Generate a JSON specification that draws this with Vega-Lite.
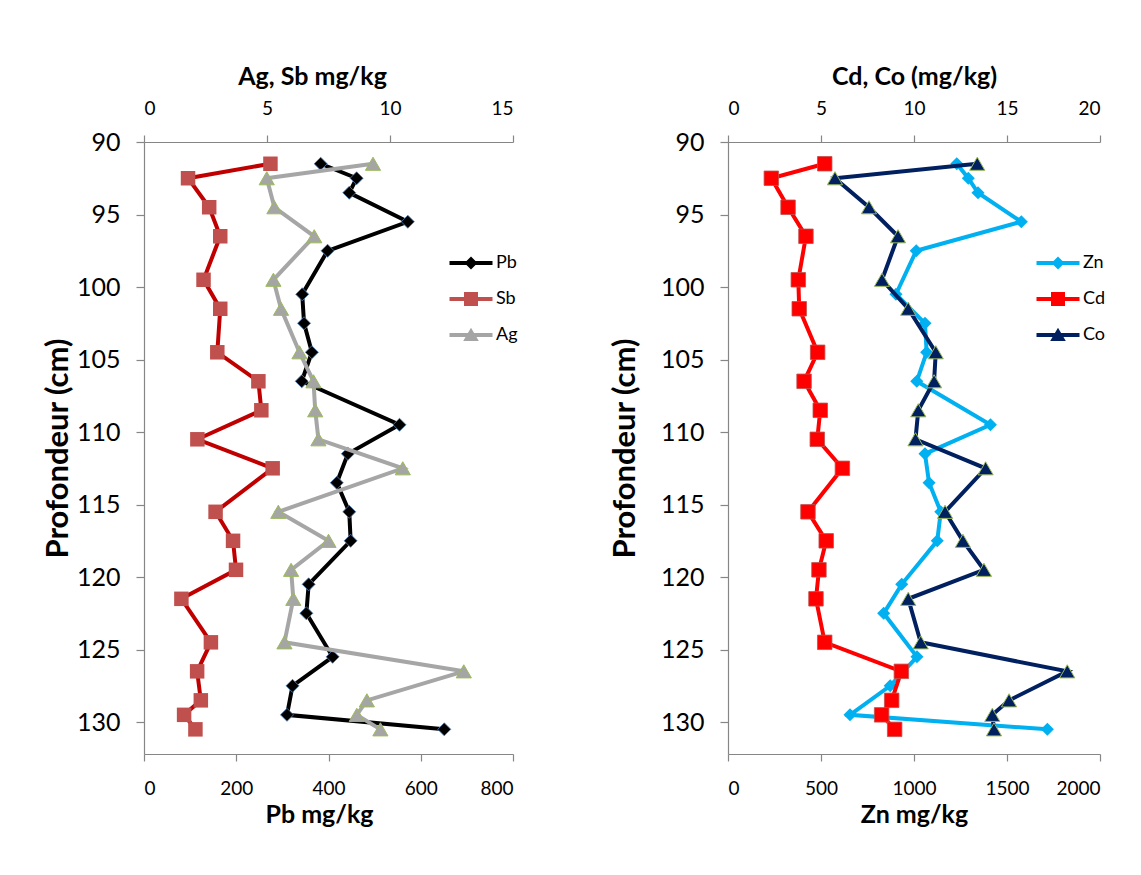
{
  "$schema": "https://vega.github.io/schema/vega-lite/v6.json",
  "background": "white",
  "padding": {"left": 42, "top": 64, "right": 10, "bottom": 10},
  "datasets": {
    "d": [
      {"element": "Pb", "depth": 91.5, "value": 383},
      {"element": "Pb", "depth": 92.5, "value": 461},
      {"element": "Pb", "depth": 93.5, "value": 445},
      {"element": "Pb", "depth": 95.5, "value": 572},
      {"element": "Pb", "depth": 97.5, "value": 398},
      {"element": "Pb", "depth": 100.5, "value": 343},
      {"element": "Pb", "depth": 102.5, "value": 347},
      {"element": "Pb", "depth": 104.5, "value": 364},
      {"element": "Pb", "depth": 106.5, "value": 342},
      {"element": "Pb", "depth": 109.5, "value": 554},
      {"element": "Pb", "depth": 111.5, "value": 442},
      {"element": "Pb", "depth": 113.5, "value": 418},
      {"element": "Pb", "depth": 115.5, "value": 445},
      {"element": "Pb", "depth": 117.5, "value": 448},
      {"element": "Pb", "depth": 120.5, "value": 357},
      {"element": "Pb", "depth": 122.5, "value": 352},
      {"element": "Pb", "depth": 125.5, "value": 409},
      {"element": "Pb", "depth": 127.5, "value": 322},
      {"element": "Pb", "depth": 129.5, "value": 310},
      {"element": "Pb", "depth": 130.5, "value": 651},
      {"element": "Sb", "depth": 91.5, "value": 5.14},
      {"element": "Sb", "depth": 92.5, "value": 1.79},
      {"element": "Sb", "depth": 94.5, "value": 2.65},
      {"element": "Sb", "depth": 96.5, "value": 3.10},
      {"element": "Sb", "depth": 99.5, "value": 2.42},
      {"element": "Sb", "depth": 101.5, "value": 3.10},
      {"element": "Sb", "depth": 104.5, "value": 2.98},
      {"element": "Sb", "depth": 106.5, "value": 4.65},
      {"element": "Sb", "depth": 108.5, "value": 4.77},
      {"element": "Sb", "depth": 110.5, "value": 2.17},
      {"element": "Sb", "depth": 112.5, "value": 5.23},
      {"element": "Sb", "depth": 115.5, "value": 2.91},
      {"element": "Sb", "depth": 117.5, "value": 3.62},
      {"element": "Sb", "depth": 119.5, "value": 3.74},
      {"element": "Sb", "depth": 121.5, "value": 1.52},
      {"element": "Sb", "depth": 124.5, "value": 2.72},
      {"element": "Sb", "depth": 126.5, "value": 2.16},
      {"element": "Sb", "depth": 128.5, "value": 2.31},
      {"element": "Sb", "depth": 129.5, "value": 1.63},
      {"element": "Sb", "depth": 130.5, "value": 2.09},
      {"element": "Ag", "depth": 91.5, "value": 9.31},
      {"element": "Ag", "depth": 92.5, "value": 4.99},
      {"element": "Ag", "depth": 94.5, "value": 5.30},
      {"element": "Ag", "depth": 96.5, "value": 6.92},
      {"element": "Ag", "depth": 99.5, "value": 5.26},
      {"element": "Ag", "depth": 101.5, "value": 5.57},
      {"element": "Ag", "depth": 104.5, "value": 6.32},
      {"element": "Ag", "depth": 106.5, "value": 6.89},
      {"element": "Ag", "depth": 108.5, "value": 6.96},
      {"element": "Ag", "depth": 110.5, "value": 7.09},
      {"element": "Ag", "depth": 112.5, "value": 10.52},
      {"element": "Ag", "depth": 115.5, "value": 5.46},
      {"element": "Ag", "depth": 117.5, "value": 7.50},
      {"element": "Ag", "depth": 119.5, "value": 5.98},
      {"element": "Ag", "depth": 121.5, "value": 6.07},
      {"element": "Ag", "depth": 124.5, "value": 5.71},
      {"element": "Ag", "depth": 126.5, "value": 13.0},
      {"element": "Ag", "depth": 128.5, "value": 9.06},
      {"element": "Ag", "depth": 129.5, "value": 8.65},
      {"element": "Ag", "depth": 130.5, "value": 9.61},
      {"element": "Zn", "depth": 91.5, "value": 1230},
      {"element": "Zn", "depth": 92.5, "value": 1292},
      {"element": "Zn", "depth": 93.5, "value": 1344},
      {"element": "Zn", "depth": 95.5, "value": 1577},
      {"element": "Zn", "depth": 97.5, "value": 1012},
      {"element": "Zn", "depth": 100.5, "value": 903},
      {"element": "Zn", "depth": 102.5, "value": 1059},
      {"element": "Zn", "depth": 104.5, "value": 1068},
      {"element": "Zn", "depth": 106.5, "value": 1015},
      {"element": "Zn", "depth": 109.5, "value": 1411},
      {"element": "Zn", "depth": 111.5, "value": 1059},
      {"element": "Zn", "depth": 113.5, "value": 1081},
      {"element": "Zn", "depth": 115.5, "value": 1144},
      {"element": "Zn", "depth": 117.5, "value": 1125},
      {"element": "Zn", "depth": 120.5, "value": 934},
      {"element": "Zn", "depth": 122.5, "value": 837},
      {"element": "Zn", "depth": 125.5, "value": 1016},
      {"element": "Zn", "depth": 127.5, "value": 872},
      {"element": "Zn", "depth": 129.5, "value": 656},
      {"element": "Zn", "depth": 130.5, "value": 1717},
      {"element": "Cd", "depth": 91.5, "value": 5.20},
      {"element": "Cd", "depth": 92.5, "value": 2.33},
      {"element": "Cd", "depth": 94.5, "value": 3.23},
      {"element": "Cd", "depth": 96.5, "value": 4.19},
      {"element": "Cd", "depth": 99.5, "value": 3.78},
      {"element": "Cd", "depth": 101.5, "value": 3.83},
      {"element": "Cd", "depth": 104.5, "value": 4.82},
      {"element": "Cd", "depth": 106.5, "value": 4.09},
      {"element": "Cd", "depth": 108.5, "value": 4.96},
      {"element": "Cd", "depth": 110.5, "value": 4.80},
      {"element": "Cd", "depth": 112.5, "value": 6.15},
      {"element": "Cd", "depth": 115.5, "value": 4.30},
      {"element": "Cd", "depth": 117.5, "value": 5.28},
      {"element": "Cd", "depth": 119.5, "value": 4.89},
      {"element": "Cd", "depth": 121.5, "value": 4.73},
      {"element": "Cd", "depth": 124.5, "value": 5.20},
      {"element": "Cd", "depth": 126.5, "value": 9.32},
      {"element": "Cd", "depth": 128.5, "value": 8.80},
      {"element": "Cd", "depth": 129.5, "value": 8.26},
      {"element": "Cd", "depth": 130.5, "value": 8.96},
      {"element": "Co", "depth": 91.5, "value": 13.40},
      {"element": "Co", "depth": 92.5, "value": 5.75},
      {"element": "Co", "depth": 94.5, "value": 7.58},
      {"element": "Co", "depth": 96.5, "value": 9.14},
      {"element": "Co", "depth": 99.5, "value": 8.28},
      {"element": "Co", "depth": 101.5, "value": 9.69},
      {"element": "Co", "depth": 104.5, "value": 11.17},
      {"element": "Co", "depth": 106.5, "value": 11.08},
      {"element": "Co", "depth": 108.5, "value": 10.23},
      {"element": "Co", "depth": 110.5, "value": 10.08},
      {"element": "Co", "depth": 112.5, "value": 13.85},
      {"element": "Co", "depth": 115.5, "value": 11.67},
      {"element": "Co", "depth": 117.5, "value": 12.63},
      {"element": "Co", "depth": 119.5, "value": 13.76},
      {"element": "Co", "depth": 121.5, "value": 9.69},
      {"element": "Co", "depth": 124.5, "value": 10.36},
      {"element": "Co", "depth": 126.5, "value": 18.24},
      {"element": "Co", "depth": 128.5, "value": 15.11},
      {"element": "Co", "depth": 129.5, "value": 14.21},
      {"element": "Co", "depth": 130.5, "value": 14.30}
    ]
  },
  "spacing": 91,
  "resolve": {"scale": {"stroke": "independent", "fill": "independent"}, "legend": {"fill": "independent", "stroke": "independent"}},
  "hconcat": [
    {
      "width": 369,
      "height": 612,
      "data": {"name": "d"},
      "encoding": {
        "y": {"field": "depth", "type": "quantitative", "scale": {"domain": [90, 132.2], "reverse": true, "nice": false, "zero": false},
          "axis": {"values": [90, 95, 100, 105, 110, 115, 120, 125, 130], "title": "Profondeur (cm)", "titleFontSize": 31, "titleFontWeight": "bold", "titlePadding": 2, "labelFontSize": 25, "tickSize": 8, "labelPadding": 16}}
      },
      "layer": [
        {
          "transform": [{"filter": "datum.element === 'Pb'"}],
          "encoding": {
            "x": {"field": "value", "type": "quantitative", "scale": {"domain": [0, 800], "nice": false, "zero": false},
              "axis": {"orient": "bottom", "values": [0, 200, 400, 600, 800], "format": "d", "title": "Pb mg/kg", "titleX": 175, "titleFontSize": 25, "titleFontWeight": "bold", "titlePadding": 4, "labelFontSize": 19, "tickSize": 7, "labelPadding": 18}}
          },
          "layer": [
            {"mark": {"type": "line", "strokeWidth": 4}, "encoding": {"order": {"field": "depth", "type": "quantitative"}, "stroke": {"field": "element", "type": "nominal", "scale": {"domain": ["Pb", "Sb", "Ag"], "range": ["#000000", "#C00000", "#A6A6A6"]},
              "legend": {"orient": "none", "legendX": 317, "legendY": 111, "title": null, "padding": 0, "symbolSize": 400, "labelOffset": 15, "rowPadding": 17, "labelFontSize": 18, "labelColor": "#000", "symbolStrokeWidth": 0, "symbolOpacity": 1,
                "encode": {"symbols": {"update": {"shape": {"signal": "datum.value === 'Pb' ? 'M-2.15,-0.2H2.15V0.2H-2.15Z M0,-0.65L0.65,0L0,0.65L-0.65,0Z' : datum.value === 'Sb' ? 'M-2.15,-0.2H2.15V0.2H-2.15Z M-0.7,-0.7H0.7V0.7H-0.7Z' : 'M-2.15,-0.2H2.15V0.2H-2.15Z M0,-0.72L0.78,0.6L-0.78,0.6Z'"}, "size": {"value": 400}, "strokeWidth": {"value": 0}}}}}}}},
            {"mark": {"type": "point", "shape": "diamond", "filled": true, "opacity": 1, "size": 170, "stroke": "#4F81BD", "strokeWidth": 0.8},
              "encoding": {
                "fill": {"field": "element", "type": "nominal", "scale": {"domain": ["Pb", "Sb", "Ag"], "range": ["#000000", "#C0504D", "#A5A5A5"]},
                  "legend": {"orient": "none", "legendX": 317, "legendY": 111, "title": null, "padding": 0, "symbolSize": 400, "labelOffset": 15, "rowPadding": 17, "labelFontSize": 18, "labelColor": "#000", "symbolStrokeWidth": 0, "symbolOpacity": 1,
                    "encode": {"symbols": {"update": {"shape": {"signal": "datum.value === 'Pb' ? 'M-2.15,-0.2H2.15V0.2H-2.15Z M0,-0.65L0.65,0L0,0.65L-0.65,0Z' : datum.value === 'Sb' ? 'M-2.15,-0.2H2.15V0.2H-2.15Z M-0.7,-0.7H0.7V0.7H-0.7Z' : 'M-2.15,-0.2H2.15V0.2H-2.15Z M0,-0.72L0.78,0.6L-0.78,0.6Z'"}, "size": {"value": 400}, "strokeWidth": {"value": 0}}}}}}
              }}
          ]
        },
        {
          "transform": [{"filter": "datum.element === 'Sb' || datum.element === 'Ag'"}],
          "encoding": {
            "x": {"field": "value", "type": "quantitative", "scale": {"domain": [0, 15], "nice": false, "zero": false},
              "axis": {"orient": "top", "values": [0, 5, 10, 15], "title": "Ag, Sb mg/kg", "titleX": 168, "titleFontSize": 25, "titleFontWeight": "bold", "titlePadding": 10, "labelFontSize": 19, "tickSize": 7, "labelPadding": 17}}
          },
          "layer": [
            {"mark": {"type": "line", "strokeWidth": 4}, "encoding": {"order": {"field": "depth", "type": "quantitative"}, "stroke": {"field": "element", "type": "nominal", "scale": {"domain": ["Pb", "Sb", "Ag"], "range": ["#000000", "#C00000", "#A6A6A6"]},
              "legend": {"orient": "none", "legendX": 317, "legendY": 111, "title": null, "padding": 0, "symbolSize": 400, "labelOffset": 15, "rowPadding": 17, "labelFontSize": 18, "labelColor": "#000", "symbolStrokeWidth": 0, "symbolOpacity": 1,
                "encode": {"symbols": {"update": {"shape": {"signal": "datum.value === 'Pb' ? 'M-2.15,-0.2H2.15V0.2H-2.15Z M0,-0.65L0.65,0L0,0.65L-0.65,0Z' : datum.value === 'Sb' ? 'M-2.15,-0.2H2.15V0.2H-2.15Z M-0.7,-0.7H0.7V0.7H-0.7Z' : 'M-2.15,-0.2H2.15V0.2H-2.15Z M0,-0.72L0.78,0.6L-0.78,0.6Z'"}, "size": {"value": 400}, "strokeWidth": {"value": 0}}}}}}}},
            {"transform": [{"filter": "datum.element === 'Sb'"}],
              "mark": {"type": "point", "shape": "square", "filled": true, "opacity": 1, "size": 210},
              "encoding": {
                "fill": {"field": "element", "type": "nominal", "scale": {"domain": ["Pb", "Sb", "Ag"], "range": ["#000000", "#C0504D", "#A5A5A5"]},
                  "legend": {"orient": "none", "legendX": 317, "legendY": 111, "title": null, "padding": 0, "symbolSize": 400, "labelOffset": 15, "rowPadding": 17, "labelFontSize": 18, "labelColor": "#000", "symbolStrokeWidth": 0, "symbolOpacity": 1,
                    "encode": {"symbols": {"update": {"shape": {"signal": "datum.value === 'Pb' ? 'M-2.15,-0.2H2.15V0.2H-2.15Z M0,-0.65L0.65,0L0,0.65L-0.65,0Z' : datum.value === 'Sb' ? 'M-2.15,-0.2H2.15V0.2H-2.15Z M-0.7,-0.7H0.7V0.7H-0.7Z' : 'M-2.15,-0.2H2.15V0.2H-2.15Z M0,-0.72L0.78,0.6L-0.78,0.6Z'"}, "size": {"value": 400}, "strokeWidth": {"value": 0}}}}}}
              }},
            {"transform": [{"filter": "datum.element === 'Ag'"}],
              "mark": {"type": "point", "shape": "triangle-up", "filled": true, "opacity": 1, "size": 230, "stroke": "#9BBB59", "strokeWidth": 1},
              "encoding": {
                "fill": {"field": "element", "type": "nominal", "scale": {"domain": ["Pb", "Sb", "Ag"], "range": ["#000000", "#C0504D", "#A5A5A5"]},
                  "legend": {"orient": "none", "legendX": 317, "legendY": 111, "title": null, "padding": 0, "symbolSize": 400, "labelOffset": 15, "rowPadding": 17, "labelFontSize": 18, "labelColor": "#000", "symbolStrokeWidth": 0, "symbolOpacity": 1,
                    "encode": {"symbols": {"update": {"shape": {"signal": "datum.value === 'Pb' ? 'M-2.15,-0.2H2.15V0.2H-2.15Z M0,-0.65L0.65,0L0,0.65L-0.65,0Z' : datum.value === 'Sb' ? 'M-2.15,-0.2H2.15V0.2H-2.15Z M-0.7,-0.7H0.7V0.7H-0.7Z' : 'M-2.15,-0.2H2.15V0.2H-2.15Z M0,-0.72L0.78,0.6L-0.78,0.6Z'"}, "size": {"value": 400}, "strokeWidth": {"value": 0}}}}}}
              }}
          ]
        }
      ],
      "resolve": {"scale": {"x": "independent"}}
    },
    {
      "width": 372,
      "height": 612,
      "data": {"name": "d"},
      "encoding": {
        "y": {"field": "depth", "type": "quantitative", "scale": {"domain": [90, 132.2], "reverse": true, "nice": false, "zero": false},
          "axis": {"values": [90, 95, 100, 105, 110, 115, 120, 125, 130], "title": "Profondeur (cm)", "titleFontSize": 31, "titleFontWeight": "bold", "titlePadding": 19, "labelFontSize": 25, "tickSize": 8, "labelPadding": 16}}
      },
      "layer": [
        {
          "transform": [{"filter": "datum.element === 'Zn'"}],
          "encoding": {
            "x": {"field": "value", "type": "quantitative", "scale": {"domain": [0, 2000], "nice": false, "zero": false},
              "axis": {"orient": "bottom", "values": [0, 500, 1000, 1500, 2000], "format": "d", "title": "Zn mg/kg", "titleFontSize": 25, "titleFontWeight": "bold", "titlePadding": 4, "labelFontSize": 19, "tickSize": 7, "labelPadding": 18}}
          },
          "layer": [
            {"mark": {"type": "line", "strokeWidth": 4}, "encoding": {"order": {"field": "depth", "type": "quantitative"}, "stroke": {"field": "element", "type": "nominal", "scale": {"domain": ["Zn", "Cd", "Co"], "range": ["#00B0F0", "#FF0000", "#002060"]},
              "legend": {"orient": "none", "legendX": 320, "legendY": 111, "title": null, "padding": 0, "symbolSize": 400, "labelOffset": 15, "rowPadding": 17, "labelFontSize": 18, "labelColor": "#000", "symbolStrokeWidth": 0, "symbolOpacity": 1,
                "encode": {"symbols": {"update": {"shape": {"signal": "datum.value === 'Zn' ? 'M-2.15,-0.2H2.15V0.2H-2.15Z M0,-0.65L0.65,0L0,0.65L-0.65,0Z' : datum.value === 'Cd' ? 'M-2.15,-0.2H2.15V0.2H-2.15Z M-0.7,-0.7H0.7V0.7H-0.7Z' : 'M-2.15,-0.2H2.15V0.2H-2.15Z M0,-0.72L0.78,0.6L-0.78,0.6Z'"}, "size": {"value": 400}, "strokeWidth": {"value": 0}}}}}}}},
            {"mark": {"type": "point", "shape": "diamond", "filled": true, "opacity": 1, "size": 170},
              "encoding": {
                "fill": {"field": "element", "type": "nominal", "scale": {"domain": ["Zn", "Cd", "Co"], "range": ["#00B0F0", "#FF0000", "#002060"]},
                  "legend": {"orient": "none", "legendX": 320, "legendY": 111, "title": null, "padding": 0, "symbolSize": 400, "labelOffset": 15, "rowPadding": 17, "labelFontSize": 18, "labelColor": "#000", "symbolStrokeWidth": 0, "symbolOpacity": 1,
                    "encode": {"symbols": {"update": {"shape": {"signal": "datum.value === 'Zn' ? 'M-2.15,-0.2H2.15V0.2H-2.15Z M0,-0.65L0.65,0L0,0.65L-0.65,0Z' : datum.value === 'Cd' ? 'M-2.15,-0.2H2.15V0.2H-2.15Z M-0.7,-0.7H0.7V0.7H-0.7Z' : 'M-2.15,-0.2H2.15V0.2H-2.15Z M0,-0.72L0.78,0.6L-0.78,0.6Z'"}, "size": {"value": 400}, "strokeWidth": {"value": 0}}}}}}
              }}
          ]
        },
        {
          "transform": [{"filter": "datum.element === 'Cd' || datum.element === 'Co'"}],
          "encoding": {
            "x": {"field": "value", "type": "quantitative", "scale": {"domain": [0, 20], "nice": false, "zero": false},
              "axis": {"orient": "top", "values": [0, 5, 10, 15, 20], "title": "Cd, Co (mg/kg)", "titleFontSize": 25, "titleFontWeight": "bold", "titlePadding": 10, "labelFontSize": 19, "tickSize": 7, "labelPadding": 17}}
          },
          "layer": [
            {"mark": {"type": "line", "strokeWidth": 4}, "encoding": {"order": {"field": "depth", "type": "quantitative"}, "stroke": {"field": "element", "type": "nominal", "scale": {"domain": ["Zn", "Cd", "Co"], "range": ["#00B0F0", "#FF0000", "#002060"]},
              "legend": {"orient": "none", "legendX": 320, "legendY": 111, "title": null, "padding": 0, "symbolSize": 400, "labelOffset": 15, "rowPadding": 17, "labelFontSize": 18, "labelColor": "#000", "symbolStrokeWidth": 0, "symbolOpacity": 1,
                "encode": {"symbols": {"update": {"shape": {"signal": "datum.value === 'Zn' ? 'M-2.15,-0.2H2.15V0.2H-2.15Z M0,-0.65L0.65,0L0,0.65L-0.65,0Z' : datum.value === 'Cd' ? 'M-2.15,-0.2H2.15V0.2H-2.15Z M-0.7,-0.7H0.7V0.7H-0.7Z' : 'M-2.15,-0.2H2.15V0.2H-2.15Z M0,-0.72L0.78,0.6L-0.78,0.6Z'"}, "size": {"value": 400}, "strokeWidth": {"value": 0}}}}}}}},
            {"transform": [{"filter": "datum.element === 'Cd'"}],
              "mark": {"type": "point", "shape": "square", "filled": true, "opacity": 1, "size": 210, "stroke": "#C0504D", "strokeWidth": 0.8},
              "encoding": {
                "fill": {"field": "element", "type": "nominal", "scale": {"domain": ["Zn", "Cd", "Co"], "range": ["#00B0F0", "#FF0000", "#002060"]},
                  "legend": {"orient": "none", "legendX": 320, "legendY": 111, "title": null, "padding": 0, "symbolSize": 400, "labelOffset": 15, "rowPadding": 17, "labelFontSize": 18, "labelColor": "#000", "symbolStrokeWidth": 0, "symbolOpacity": 1,
                    "encode": {"symbols": {"update": {"shape": {"signal": "datum.value === 'Zn' ? 'M-2.15,-0.2H2.15V0.2H-2.15Z M0,-0.65L0.65,0L0,0.65L-0.65,0Z' : datum.value === 'Cd' ? 'M-2.15,-0.2H2.15V0.2H-2.15Z M-0.7,-0.7H0.7V0.7H-0.7Z' : 'M-2.15,-0.2H2.15V0.2H-2.15Z M0,-0.72L0.78,0.6L-0.78,0.6Z'"}, "size": {"value": 400}, "strokeWidth": {"value": 0}}}}}}
              }},
            {"transform": [{"filter": "datum.element === 'Co'"}],
              "mark": {"type": "point", "shape": "triangle-up", "filled": true, "opacity": 1, "size": 230, "stroke": "#9BBB59", "strokeWidth": 1},
              "encoding": {
                "fill": {"field": "element", "type": "nominal", "scale": {"domain": ["Zn", "Cd", "Co"], "range": ["#00B0F0", "#FF0000", "#002060"]},
                  "legend": {"orient": "none", "legendX": 320, "legendY": 111, "title": null, "padding": 0, "symbolSize": 400, "labelOffset": 15, "rowPadding": 17, "labelFontSize": 18, "labelColor": "#000", "symbolStrokeWidth": 0, "symbolOpacity": 1,
                    "encode": {"symbols": {"update": {"shape": {"signal": "datum.value === 'Zn' ? 'M-2.15,-0.2H2.15V0.2H-2.15Z M0,-0.65L0.65,0L0,0.65L-0.65,0Z' : datum.value === 'Cd' ? 'M-2.15,-0.2H2.15V0.2H-2.15Z M-0.7,-0.7H0.7V0.7H-0.7Z' : 'M-2.15,-0.2H2.15V0.2H-2.15Z M0,-0.72L0.78,0.6L-0.78,0.6Z'"}, "size": {"value": 400}, "strokeWidth": {"value": 0}}}}}}
              }}
          ]
        }
      ],
      "resolve": {"scale": {"x": "independent"}}
    }
  ],
  "config": {
    "font": "Lato",
    "view": {"stroke": null},
    "axis": {"grid": false, "domainColor": "#868686", "tickColor": "#868686", "labelColor": "#000000", "titleColor": "#000000", "labelFont": "Lato", "titleFont": "Lato", "domainWidth": 1.2, "tickWidth": 1.2},
    "legend": {"labelFont": "Lato"}
  }
}
